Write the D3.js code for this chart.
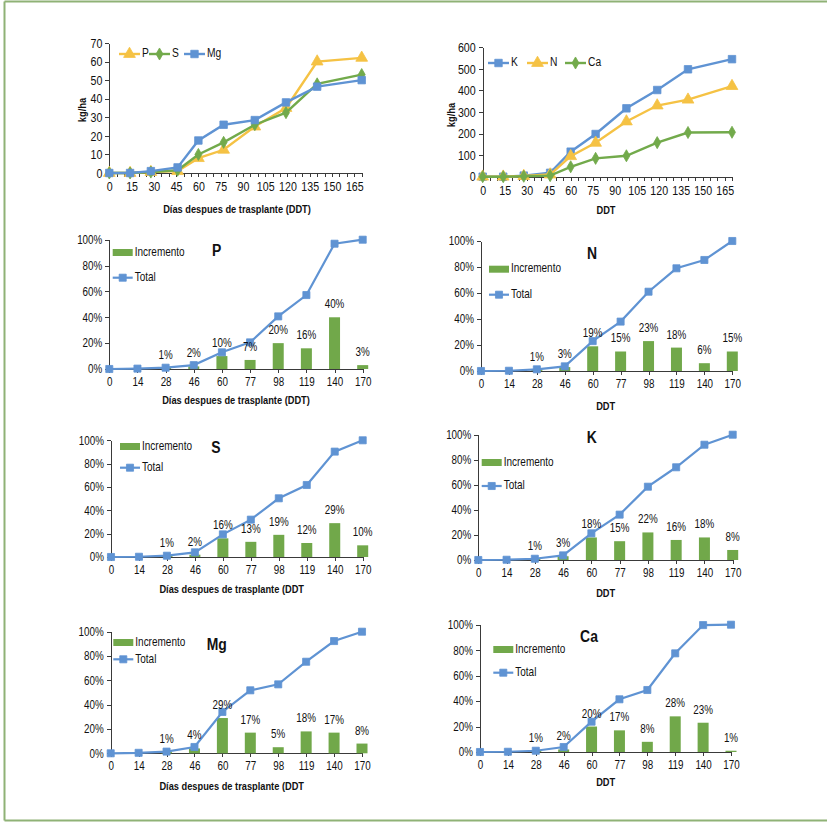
<!DOCTYPE html>
<html><head><meta charset="utf-8">
<script src="https://cdn.jsdelivr.net/npm/d3@7"></script>
<style>
body{margin:0;background:#fff;}
svg text{font-family:'Liberation Sans',Arial,sans-serif;fill:#111;}
</style></head><body><svg id="c" width="827" height="822"></svg>
<script>
// ---------- DATA ----------
const days = [0, 14, 28, 46, 60, 77, 98, 119, 140, 170];
const dayLabels = ["0", "14", "28", "46", "60", "77", "98", "119", "140", "170"];
const kgDayTicks = [0, 15, 30, 45, 60, 75, 90, 105, 120, 135, 150, 165];
const kgTicksLeft = [0, 10, 20, 30, 40, 50, 60, 70];
const kgTicksRight = [0, 100, 200, 300, 400, 500, 600];
const pctTicks = [0, 20, 40, 60, 80, 100];

const kgP  = [0, 0, 0.5, 1, 8, 12.5, 25, 35, 60, 62];
const kgS  = [0, 0, 0.5, 1.5, 10, 16.5, 26, 32.5, 48, 53];
const kgMg = [0, 0, 1, 3, 17.5, 26, 28.5, 38, 46.5, 50];
const kgK  = [0, 0, 5, 18, 116, 198, 317, 402, 498, 545];
const kgN  = [0, 0, 3, 10, 95, 157, 256, 330, 357, 420];
const kgCa = [0, 0, 2, 5, 46, 85, 97, 158, 205, 206];

const incP  = [0, 0, 1, 2, 10, 7, 20, 16, 40, 3];
const totP  = [0, 0.3, 1, 3, 12.9, 20.6, 40.7, 57.2, 96.9, 100];
const incN  = [0, 0, 1, 3, 19, 15, 23, 18, 6, 15];
const totN  = [0, 0.2, 1.3, 3.6, 23, 38, 61, 79, 85.4, 100];
const incS  = [0, 0, 1, 2, 16, 13, 19, 12, 29, 10];
const totS  = [0, 0.2, 1.1, 4, 19.4, 32, 50.3, 61.7, 90.3, 100];
const incK  = [0, 0, 1, 3, 18, 15, 22, 16, 18, 8];
const totK  = [0, 0.2, 1, 3.7, 21.3, 36.2, 58.5, 74, 92, 100];
const incMg = [0, 0, 1, 4, 29, 17, 5, 18, 17, 8];
const totMg = [0, 0.4, 1.4, 5.2, 34, 51.8, 56.7, 75.3, 92.3, 100];
const incCa = [0, 0, 1, 2, 20, 17, 8, 28, 23, 1];
const totCa = [0, 0.2, 1, 3.9, 23.8, 41.4, 48.7, 77.5, 99.7, 100];

// ---------- STYLE ----------
const C_BLUE = "#5f93d3", C_YEL = "#f5c244", C_GRN = "#72aa4b", C_BAR = "#71a84a", C_AX = "#3a3a3a";
const svg = d3.select("#c");

// frame
svg.append("rect").attr("x",0).attr("y",0).attr("width",827).attr("height",822).attr("fill","#fff");
svg.append("path").attr("d","M4.5,1.5 L827,1.5 M4.5,1.5 L4.5,820.5 M4.5,820.5 L827,820.5")
  .attr("fill","none").attr("stroke","#8fb276").attr("stroke-width",2);

function styleAxis(g, fs){
  g.selectAll("path,line").attr("stroke",C_AX).attr("stroke-width",1).attr("shape-rendering","crispEdges");
  g.selectAll("text").attr("font-size",fs).attr("fill","#111")
    .style("font-family","'Liberation Sans',Arial,sans-serif");
}
function marker(sel, type, size, color){
  const sym = {sq:d3.symbolSquare, tri:d3.symbolTriangle, dia:d3.symbolDiamond}[type];
  sel.attr("d", d3.symbol().type(sym).size(size)).attr("fill",color).attr("stroke",color).attr("stroke-width",0.8);
}

// ---------- KG CHARTS ----------
function kgChart(o){
  const x = d3.scaleLinear().domain([0,170]).range([o.x0,o.x1]);
  const y = d3.scaleLinear().domain([0,o.ymax]).range([o.y0,o.y1]);
  const minor = d3.range(0,171,5);
  const gx = svg.append("g").attr("transform",`translate(0,${o.y0})`)
    .call(d3.axisBottom(x).tickValues(minor).tickSize(4).tickSizeOuter(0).tickPadding(5)
      .tickFormat(d => kgDayTicks.includes(d) ? d : ""));
  styleAxis(gx, 13);
  const gy = svg.append("g").attr("transform",`translate(${o.x0},0)`)
    .call(d3.axisLeft(y).tickValues(o.yticks).tickSize(4).tickSizeOuter(0).tickPadding(3));
  styleAxis(gy, 13);
  svg.append("text").attr("transform",`translate(${o.ylab[0]},${o.ylab[1]}) rotate(-90)`)
    .attr("text-anchor","middle").attr("dominant-baseline","middle")
    .attr("font-size",11.5).attr("font-weight","bold").text("kg/ha");
  svg.append("text").attr("x",o.xlab[0]).attr("y",o.xlab[1]).attr("text-anchor","middle")
    .attr("dominant-baseline","middle").attr("font-size",11.3).attr("font-weight","bold").text(o.xtitle);
  const line = d3.line().x((d,i)=>x(days[i])).y(d=>y(d));
  o.series.forEach(s=>{
    svg.append("path").datum(s.values).attr("d",line).attr("fill","none").attr("stroke",s.color).attr("stroke-width",2.4);
    svg.append("g").selectAll("path").data(s.values).join("path")
      .attr("transform",(d,i)=>`translate(${x(days[i])},${y(d)})`).call(marker,s.m,s.ms,s.color);
  });
  // legend
  o.series.forEach((s,i)=>{
    const lx = o.leg[i], ly = o.legY;
    svg.append("line").attr("x1",lx).attr("x2",lx+21).attr("y1",ly).attr("y2",ly).attr("stroke",s.color).attr("stroke-width",2.4);
    svg.append("path").attr("transform",`translate(${lx+10.5},${ly})`).call(marker,s.m,s.ms,s.color);
    svg.append("text").attr("x",lx+23).attr("y",ly).attr("dominant-baseline","middle").attr("font-size",12.5).text(s.name);
  });
}

kgChart({x0:109.3,x1:361.7,y0:173,y1:43,ymax:70,yticks:kgTicksLeft,ylab:[83,110],xlab:[237,210],
  xtitle:"Días despues de trasplante (DDT)",legY:54,leg:[119,149,184],
  series:[{name:"P",values:kgP,color:C_YEL,m:"tri",ms:60},
          {name:"S",values:kgS,color:C_GRN,m:"dia",ms:42},
          {name:"Mg",values:kgMg,color:C_BLUE,m:"sq",ms:56}]});
kgChart({x0:482.7,x1:732,y0:176.7,y1:47.3,ymax:600,yticks:kgTicksRight,ylab:[452,115],xlab:[606,211],
  xtitle:"DDT",legY:63,leg:[488,527,565],
  series:[{name:"K",values:kgK,color:C_BLUE,m:"sq",ms:56},
          {name:"N",values:kgN,color:C_YEL,m:"tri",ms:60},
          {name:"Ca",values:kgCa,color:C_GRN,m:"dia",ms:42}]});

// ---------- PERCENT PANELS ----------
function pctPanel(o){
  const x = d3.scalePoint().domain(dayLabels).range([o.x0,o.x1]).padding(0);
  const y = d3.scaleLinear().domain([0,100]).range([o.y0,o.y1]);
  const gx = svg.append("g").attr("transform",`translate(0,${o.y0})`)
    .call(d3.axisBottom(x).tickSize(4).tickSizeOuter(0).tickPadding(4));
  styleAxis(gx, 12);
  const gy = svg.append("g").attr("transform",`translate(${o.x0},0)`)
    .call(d3.axisLeft(y).tickValues(pctTicks).tickSize(4).tickSizeOuter(0).tickPadding(3).tickFormat(d=>d+"%"));
  styleAxis(gy, 12);
  const bw = 11;
  svg.append("g").selectAll("rect").data(o.inc.map((v,i)=>({v,k:dayLabels[i]})).filter(d=>d.v>0)).join("rect")
    .attr("x",d=>x(d.k)-bw/2).attr("width",bw).attr("y",d=>y(d.v)).attr("height",d=>o.y0-y(d.v)).attr("fill",C_BAR);
  const line = d3.line().x((d,i)=>x(dayLabels[i])).y(d=>y(d));
  svg.append("path").datum(o.tot).attr("d",line).attr("fill","none").attr("stroke",C_BLUE).attr("stroke-width",2.2);
  svg.append("g").selectAll("path").data(o.tot).join("path")
    .attr("transform",(d,i)=>`translate(${x(dayLabels[i])},${y(d)})`).call(marker,"sq",50,C_BLUE);
  svg.append("g").selectAll("text").data(o.inc.map((v,i)=>({v,k:dayLabels[i]})).filter(d=>d.v>0)).join("text")
    .attr("x",d=>x(d.k)).attr("y",d=>y(d.v)-9).attr("text-anchor","middle").attr("font-size",12).text(d=>d.v+"%");
  // legend
  svg.append("rect").attr("x",o.sw[0]).attr("y",o.sw[1]).attr("width",20).attr("height",7).attr("fill",C_BAR);
  svg.append("text").attr("x",o.sw[0]+22).attr("y",o.sw[1]+3.5).attr("dominant-baseline","middle").attr("font-size",12.2).text("Incremento");
  svg.append("line").attr("x1",o.sw[0]).attr("x2",o.sw[0]+20).attr("y1",o.totY).attr("y2",o.totY).attr("stroke",C_BLUE).attr("stroke-width",2.2);
  svg.append("path").attr("transform",`translate(${o.sw[0]+10},${o.totY})`).call(marker,"sq",50,C_BLUE);
  svg.append("text").attr("x",o.sw[0]+22).attr("y",o.totY).attr("dominant-baseline","middle").attr("font-size",12.2).text("Total");
  svg.append("text").attr("x",o.title[0]).attr("y",o.title[1]).attr("text-anchor","middle").attr("dominant-baseline","middle")
    .attr("font-size",17).attr("font-weight","bold").text(o.name);
  svg.append("text").attr("x",o.xlab[0]).attr("y",o.xlab[1]).attr("text-anchor","middle").attr("dominant-baseline","middle")
    .attr("font-size",11.3).attr("font-weight","bold").text(o.xtitle);
}
const XT1 = "Días despues de trasplante (DDT)", XT2 = "Días despues de trasplante (DDT";
pctPanel({name:"P",inc:incP,tot:totP,x0:109.3,x1:362.7,y0:369,y1:239.7,sw:[112.7,249],totY:277.7,title:[216.7,251.7],xlab:[236,401],xtitle:XT1});
pctPanel({name:"N",inc:incN,tot:totN,x0:481,x1:732.3,y0:371,y1:241,sw:[489,265.7],totY:294.7,title:[592,254.3],xlab:[605.7,406.7],xtitle:"DDT"});
pctPanel({name:"S",inc:incS,tot:totS,x0:111,x1:362.7,y0:557,y1:440.3,sw:[120,443],totY:467.7,title:[216,448.3],xlab:[231.7,590],xtitle:XT2});
pctPanel({name:"K",inc:incK,tot:totK,x0:478.3,x1:732.7,y0:560,y1:434.7,sw:[481.7,459],totY:486,title:[591.7,438.3],xlab:[605.7,594],xtitle:"DDT"});
pctPanel({name:"Mg",inc:incMg,tot:totMg,x0:110.7,x1:362,y0:753.3,y1:631.7,sw:[113.3,639],totY:659.3,title:[216.7,645.7],xlab:[231.7,787.3],xtitle:XT2});
pctPanel({name:"Ca",inc:incCa,tot:totCa,x0:480,x1:731,y0:752,y1:624.7,sw:[493.3,646],totY:672.7,title:[589,637.3],xlab:[605.7,782.7],xtitle:"DDT"});

// Narrow (Arial-Narrow-like) rendering: compress each text horizontally about its anchor
svg.selectAll("text").each(function(){
  const t = d3.select(this);
  const x = +t.attr("x") || 0;
  const prev = t.attr("transform") || "";
  t.attr("transform", `${prev} translate(${x},0) scale(0.82,1) translate(${-x},0)`);
});
</script></body></html>
